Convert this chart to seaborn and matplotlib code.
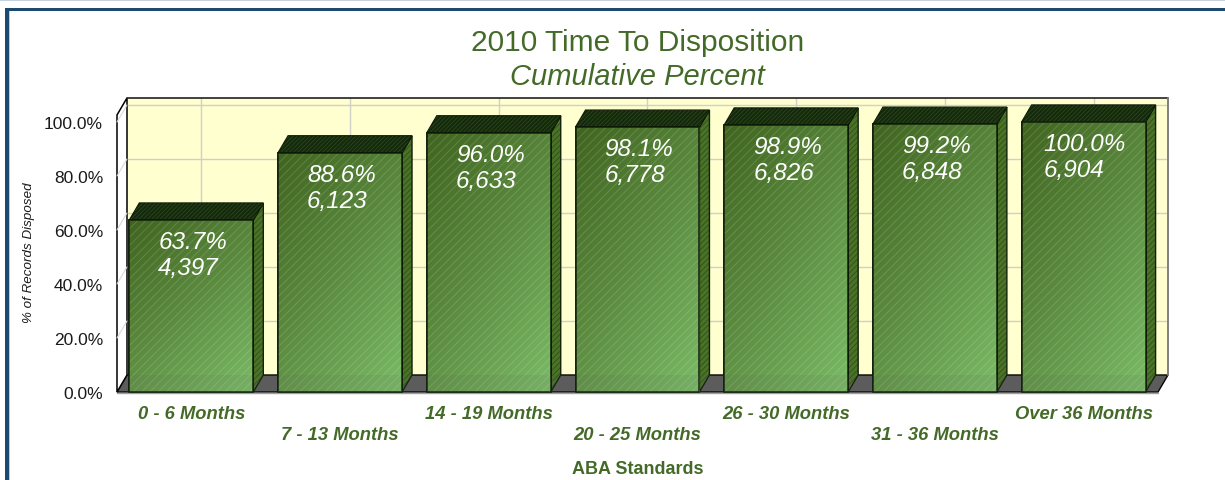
import numpy as np
import pandas as pd
import matplotlib
matplotlib.use("Agg")
import matplotlib.pyplot as plt
from matplotlib.colors import LinearSegmentedColormap
from matplotlib.patches import Polygon, Rectangle
import seaborn as sns

categories = ["0 - 6 Months", "7 - 13 Months", "14 - 19 Months", "20 - 25 Months",
              "26 - 30 Months", "31 - 36 Months", "Over 36 Months"]
percents = [63.7, 88.6, 96.0, 98.1, 98.9, 99.2, 100.0]
counts = [4397, 6123, 6633, 6778, 6826, 6848, 6904]
yticks = [0, 20, 40, 60, 80, 100]

W, H = 1225, 481
GREEN = "#446a28"
sns.set_theme(style="white")
plt.rcParams["font.family"] = ["Liberation Sans", "DejaVu Sans"]
plt.rcParams["hatch.linewidth"] = 0.6

fig = plt.figure(figsize=(W / 100, H / 100), dpi=100, facecolor="white")
L, R, T, B = 117, 1158, 123, 393
ax = fig.add_axes([L / W, 1 - B / H, (R - L) / W, (B - T) / H])
df = pd.DataFrame({"period": categories, "pct": percents})
sns.barplot(data=df, x="period", y="pct", order=categories, width=0.833, color="#5a8a3c",
            saturation=1, edgecolor="black", linewidth=1.2, ax=ax, zorder=5)

ax.set_xlim(-0.5, 6.5)
ax.set_ylim(0, 100)
px_x = 7 / (R - L)
px_y = 100 / (B - T)
DX, DY = 10.0 * px_x, 17 * px_y
TOP = 102.6

# back wall, floor and side wall
x0, x1 = -0.5, 6.5
ax.add_patch(Rectangle((x0 + DX, DY), x1 - x0, TOP, fc="#ffffd0", ec="none", zorder=1, clip_on=False))
ax.add_patch(Polygon([(x0, 0), (x1, 0), (x1 + DX, DY), (x0 + DX, DY)], fc="#5c5c5c", ec="black",
                     lw=1, zorder=2, clip_on=False))
ax.add_patch(Polygon([(x0, 0), (x0 + DX, DY), (x0 + DX, TOP + DY), (x0, TOP)], fc="white", ec="black",
                     lw=1.1, zorder=2, clip_on=False))
ax.plot([x0 + DX, x1 + DX], [TOP + DY] * 2, color="#222222", lw=1.2, zorder=3, clip_on=False)
ax.plot([x1 + DX] * 2, [DY, TOP + DY], color="#808080", lw=1.4, zorder=3, clip_on=False)
ax.plot([x0, x1], [-0.4, -0.4], color="#a0a0a0", lw=1, zorder=3, clip_on=False)
for t in yticks[1:]:
    ax.plot([x0 + DX, x1 + DX], [t + DY] * 2, color="#d0d0c8", lw=1, zorder=1.5, clip_on=False)
    ax.plot([x0, x0 + DX], [t, t + DY], color="#d8d8d8", lw=0.8, zorder=2.5, clip_on=False)
for i in range(len(categories)):
    ax.plot([i + DX] * 2, [DY, TOP + DY], color="#d0d0c8", lw=1, zorder=1.5, clip_on=False)

# bars: gradient front, hatched side and top
cmap = LinearSegmentedColormap.from_list("g", ["#40641f", "#5c8c40", "#7abb66"])
gy, gx = np.mgrid[0:1:80j, 0:1:80j]
grad = 0.4 * gx + 0.6 * gy
for bar, pct, n in zip(ax.patches[:len(categories)], percents, counts):
    x, w, h = bar.get_x(), bar.get_width(), bar.get_height()
    im = ax.imshow(grad, cmap=cmap, extent=(x, x + w, 0, h), origin="upper", aspect="auto",
                   zorder=5.2, vmin=0, vmax=1)
    im.set_clip_path(bar)
    ax.add_patch(Rectangle((x, 0), w, h, fc="none", ec=(1, 1, 1, 0.17), hatch="////", lw=0, zorder=5.3))
    ax.add_patch(Rectangle((x, 0), w, h, fc="none", ec="#11200a", lw=1.1, zorder=5.6, clip_on=False))
    side = [(x + w, 0), (x + w + DX, DY), (x + w + DX, h + DY), (x + w, h)]
    top = [(x, h), (x + w, h), (x + w + DX, h + DY), (x + DX, h + DY)]
    ax.add_patch(Polygon(side, fc="#4a7328", ec="#11200a", lw=1.0, zorder=4, clip_on=False))
    ax.add_patch(Polygon(side, fc="none", ec=(0.1, 0.2, 0.05, 0.55), hatch="//////", lw=0,
                         zorder=4.1, clip_on=False))
    ax.add_patch(Polygon(top, fc="#14290c", ec="#0e1c07", lw=1.0, zorder=4.2, clip_on=False))
    ax.add_patch(Polygon(top, fc="none", ec=(0.3, 0.45, 0.2, 0.4), hatch="////////", lw=0,
                         zorder=4.3, clip_on=False))
    ax.annotate(f"{pct:.1f}%\n{n:,}", (x + w / 2, h), xytext=(1.0, -7.0), textcoords="offset points",
                ha="center", va="top", multialignment="left", color="white", fontsize=17.5,
                style="italic", linespacing=1.2, zorder=7)

# floor seen through the translucent bars
ax.add_patch(Polygon([(x0, 0), (x1, 0), (x1 + DX, DY), (x0 + DX, DY)], fc="#5c5c5c", ec="none",
                     alpha=0.1, zorder=6, clip_on=False))

for s in ax.spines.values():
    s.set_visible(False)
ax.set_yticks(yticks)
ax.set_yticklabels([f"{t:.1f}%" for t in yticks], fontsize=12.5, color="#1a1a1a")
ax.tick_params(axis="y", length=0, pad=10)
ax.set_xticks(range(len(categories)))
ax.set_xticklabels(categories, fontsize=13.2, fontweight="bold", style="italic", color=GREEN)
ax.tick_params(axis="x", length=0)
for i, tick in enumerate(ax.xaxis.get_major_ticks()):
    tick.set_pad(9.3 if i % 2 == 0 else 24.3)
ax.set_xlabel("ABA Standards", fontsize=13, fontweight="bold", color=GREEN, va="center")
ax.xaxis.set_label_coords(0.5, -0.282)
ax.set_ylabel("% of Records Disposed", fontsize=9.6, style="italic", color="#1a1a1a", va="center")
ax.yaxis.set_label_coords(-0.0845, 0.5185)
ax.text(0.5, (B - 43) / (B - T), "2010 Time To Disposition", transform=ax.transAxes, ha="center",
        va="center", fontsize=21.5, color=GREEN)
ax.text(0.5, (B - 77) / (B - T), "Cumulative Percent", transform=ax.transAxes, ha="center",
        va="center", fontsize=21, style="italic", color=GREEN)

# page frame
frame = "#1b4a6e"
fig.add_artist(Rectangle((0, 1 - 2 / H), 1, 2 / H, transform=fig.transFigure, fc="#c3d4e0", ec="none"))
fig.add_artist(Rectangle((5 / W, 0), 4 / W, 1 - 9 / H, transform=fig.transFigure, fc=frame, ec="none"))
fig.add_artist(Rectangle((5 / W, 1 - 12 / H), 1 - 5 / W, 3 / H, transform=fig.transFigure, fc=frame, ec="none"))
fig.add_artist(Rectangle((9 / W, 0), 1 / W, 1 - 12 / H, transform=fig.transFigure, fc="#b6cde0", ec="none"))

fig.savefig("out.png", dpi=100)
